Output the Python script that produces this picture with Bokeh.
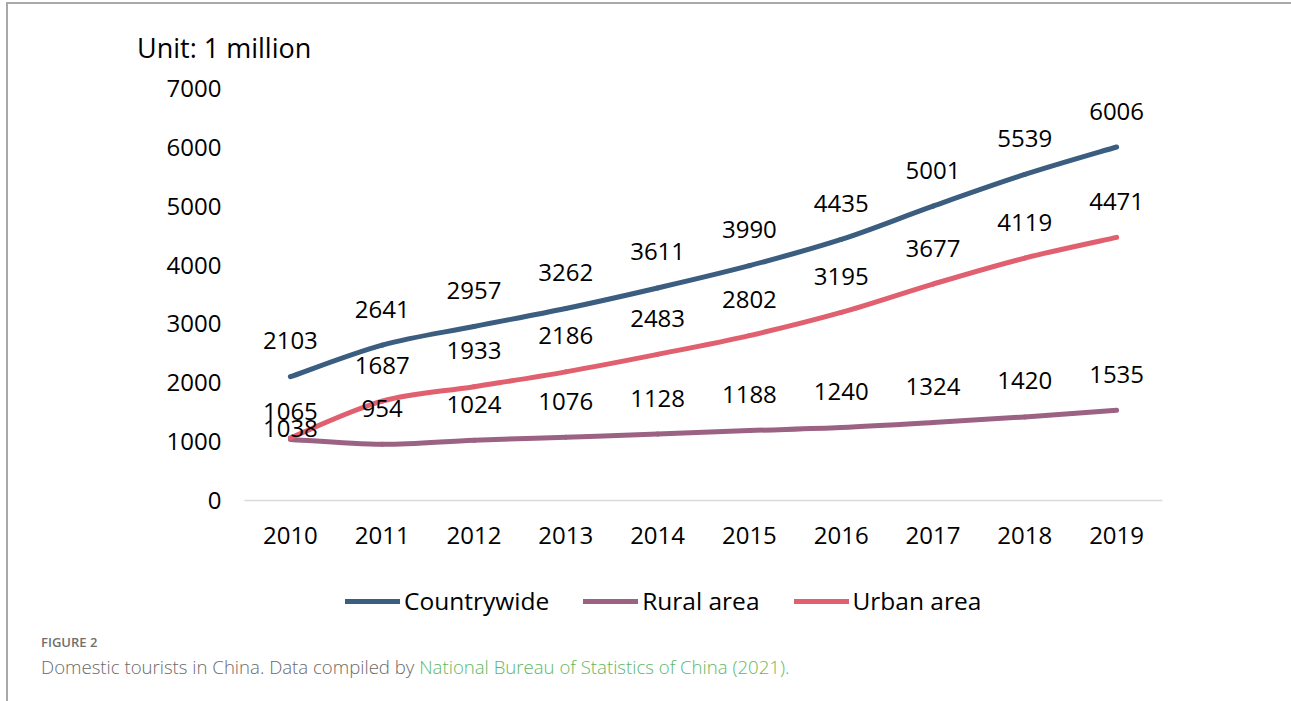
from bokeh.plotting import figure
from bokeh.layouts import column
from bokeh.models import (Range1d, SingleIntervalTicker, FixedTicker, Div,
                          Legend, LegendItem, ColumnDataSource)
from bokeh.core.properties import value
from bokeh.embed import file_html
from bokeh.resources import INLINE

# ---------------- data ----------------
years = [2010, 2011, 2012, 2013, 2014, 2015, 2016, 2017, 2018, 2019]
countrywide = [2103, 2641, 2957, 3262, 3611, 3990, 4435, 5001, 5539, 6006]
rural = [1038, 954, 1024, 1076, 1128, 1188, 1240, 1324, 1420, 1535]
urban = [1065, 1687, 1933, 2186, 2483, 2802, 3195, 3677, 4119, 4471]
series_names = ["Countrywide", "Rural area", "Urban area"]
y_ticks_interval = 1000
unit_text = "Unit: 1 million"
fig_label = "FIGURE 2"
caption_plain = "Domestic tourists in China. Data compiled by "
caption_link = "National Bureau of Statistics of China (2021)."

# ---------------- style ----------------
colors = ["#3B5D7F", "#9B6283", "#E0606F"]
FONT = "Open Sans"
CAP_FONT = "Open Sans"
OX, OY = 8, 4                # offset of content caused by page frame lines
W = 1291 - OX
UNIT_H = 64                  # unit strip (canvas y 4..68)
FIG_H = 492                  # main chart (canvas y 68..560)
LEG_H = 70                   # legend strip (canvas y 560..630)
TOP = OY + UNIT_H
FL, FR, FT, FB = 244 - OX, 1162 - OX, 88 - TOP, 500 - TOP

unit = Div(text=f'<div style="font-family:{FONT};font-size:27px;line-height:28px;'
                f'color:#000;padding-top:30px;padding-left:{137 - OX}px;'
                f'white-space:nowrap">{unit_text}</div>',
           width=W, height=UNIT_H, margin=0)

p = figure(width=W, height=FIG_H,
           x_range=Range1d(years[0] - 0.5, years[-1] + 0.5),
           y_range=Range1d(0, 7000),
           output_backend="svg", toolbar_location=None,
           min_border_left=FL, min_border_right=W - FR,
           min_border_top=FT, min_border_bottom=FIG_H - FB)
p.grid.visible = False
p.outline_line_color = None
p.background_fill_color = "white"
p.border_fill_color = "white"

xa = p.xaxis[0]
xa.ticker = FixedTicker(ticks=years)
xa.axis_line_color = "#d9d9d9"
xa.axis_line_width = 1.5
xa.major_tick_line_color = None
xa.minor_tick_line_color = None
xa.major_label_text_font = FONT
xa.major_label_text_font_size = "24px"
xa.major_label_text_color = "#000000"
xa.major_label_standoff = 20

ya = p.yaxis[0]
ya.ticker = SingleIntervalTicker(interval=y_ticks_interval)
ya.axis_line_color = None
ya.major_tick_line_color = None
ya.minor_tick_line_color = None
ya.major_label_text_font = FONT
ya.major_label_text_font_size = "24px"
ya.major_label_text_color = "#000000"
ya.major_label_standoff = 17


def smooth_segments(xs, ys):
    n = len(xs)
    d = dict(x0=[], y0=[], x1=[], y1=[], cx0=[], cy0=[], cx1=[], cy1=[])
    for i in range(n - 1):
        a = i - 1 if i > 0 else i
        b = i + 2 if i + 2 < n else i + 1
        d["x0"].append(xs[i]); d["y0"].append(ys[i])
        d["x1"].append(xs[i + 1]); d["y1"].append(ys[i + 1])
        d["cx0"].append(xs[i] + (xs[i + 1] - xs[a]) / 6)
        d["cy0"].append(ys[i] + (ys[i + 1] - ys[a]) / 6)
        d["cx1"].append(xs[i + 1] - (xs[b] - xs[i]) / 6)
        d["cy1"].append(ys[i + 1] - (ys[b] - ys[i]) / 6)
    return ColumnDataSource(d)


all_series = [countrywide, rural, urban]
for name, vals, col in zip(series_names, all_series, colors):
    src = smooth_segments(years, vals)
    p.bezier(x0="x0", y0="y0", x1="x1", y1="y1", cx0="cx0", cy0="cy0",
             cx1="cx1", cy1="cy1", source=src, line_color=col,
             line_width=5, line_cap="round")

# data labels (above points); the two 2010 labels nudged as in the original
nudge = {("Urban area", 0): -26, ("Rural area", 0): -11}
for name, vals in zip(series_names, all_series):
    offs = [nudge.get((name, i), -36) for i in range(len(vals))]
    src = ColumnDataSource(dict(x=years, y=vals, t=[str(v) for v in vals], o=offs))
    p.text(x="x", y="y", text="t", y_offset="o", source=src,
           text_align="center", text_baseline="middle",
           text_font=value(FONT), text_font_size="24px", text_color="#000000")

# ---------------- legend strip (frame aligned with the chart frame) ----------------
lg = figure(width=W, height=LEG_H, x_range=Range1d(0, 1), y_range=Range1d(0, 1),
            output_backend="svg", toolbar_location=None,
            x_axis_location=None, y_axis_location=None,
            min_border_left=FL, min_border_right=W - FR,
            min_border_top=0, min_border_bottom=0)
lg.grid.visible = False
lg.outline_line_color = None
lg.border_fill_color = "white"
items = []
for name, vals, col in zip(series_names, all_series, colors):
    # same series drawn outside this strip's view; only its legend entry shows
    r = lg.line(x=years, y=vals, line_color=col, line_width=5, line_cap="round")
    items.append(LegendItem(label=name, renderers=[r]))
legend = Legend(items=items, orientation="horizontal",
                location=(345 - 244, 13), padding=0, margin=0, spacing=34,
                label_standoff=4, glyph_width=55, glyph_height=24,
                label_text_font=FONT, label_text_font_size="24.5px",
                label_text_color="#000000", border_line_color=None,
                background_fill_alpha=0)
lg.add_layout(legend, "center")

cap_html = (
    f'<div style="font-family:{CAP_FONT};font-size:13px;line-height:24px;font-weight:600;'
    f'color:#6f6f6f;padding-left:33px;white-space:nowrap">{fig_label}</div>'
    f'<div style="font-family:{CAP_FONT};font-size:18.6px;line-height:26px;font-weight:300;'
    f'color:#6a6a6a;padding-left:33px;white-space:nowrap">{caption_plain}'
    f'<span style="color:#5DB862">{caption_link}</span></div>'
)
cap = Div(text=cap_html, width=W, height=701 - TOP - FIG_H - LEG_H, margin=0)

layout = column(unit, p, lg, cap, spacing=0, margin=(2, 0, 0, 6),
                styles={"border-top": "2px solid #a9a9a9",
                        "border-left": "2px solid #a9a9a9",
                        "background-color": "white"})

open("out.html", "w").write(file_html(layout, INLINE))
